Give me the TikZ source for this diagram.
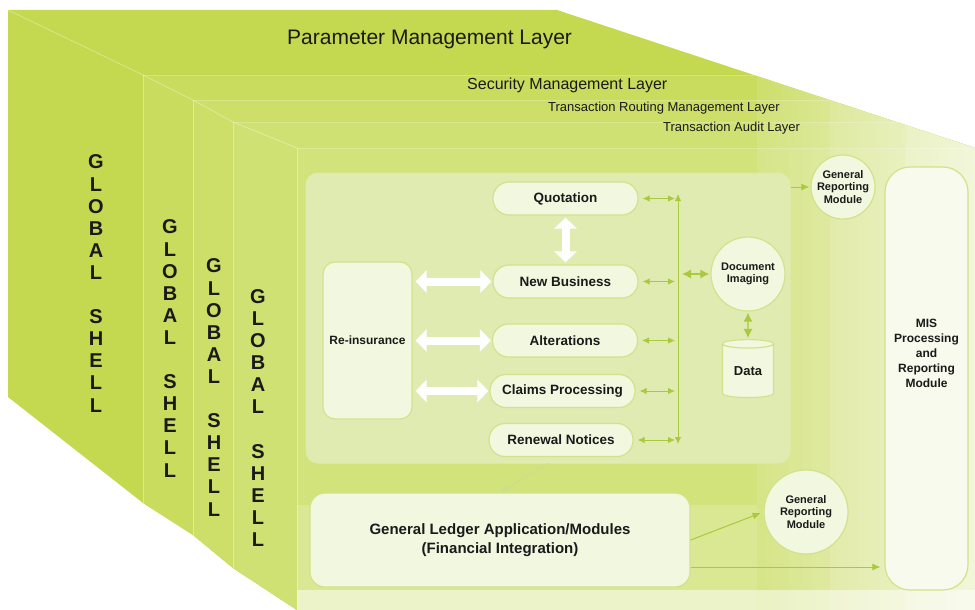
\documentclass[tikz,border=0pt]{standalone}
\usepackage{fontspec}
\setmainfont{Liberation Sans}
\usetikzlibrary{arrows.meta,shapes.geometric,fadings,calc}
\tikzfading[name=fadeR, left color=transparent!100, right color=transparent!0]
\definecolor{Lone}{HTML}{C4D94F}
\definecolor{Ltwo}{HTML}{C9DC5E}
\definecolor{Lthree}{HTML}{CDDF69}
\definecolor{Lfour}{HTML}{D0E173}
\definecolor{Lfive}{HTML}{D3E37C}
\definecolor{panelc}{HTML}{E0EBB2}
\definecolor{boxc}{HTML}{F2F7E0}
\definecolor{edgec}{HTML}{D2E28A}
\definecolor{arrc}{HTML}{A9C93E}
\definecolor{txt}{HTML}{1A1A1A}
\tikzset{
  pill/.style={draw=edgec, line width=1.2pt, fill=boxc, rounded corners=16pt,
    minimum width=145pt, minimum height=33pt, inner sep=0pt,
    font=\fontsize{13.5}{15}\selectfont\bfseries, text=txt},
  circ/.style={circle, draw=edgec, line width=1.2pt, fill=boxc, inner sep=0pt,
    font=\fontsize{11}{12.5}\selectfont\bfseries, align=center, text=txt},
  garr/.style={draw=arrc, line width=1pt, {Latex[length=7pt,width=6.5pt]}-{Latex[length=7pt,width=6.5pt]}},
  garrb/.style={draw=arrc, line width=1.2pt, {Latex[length=9pt,width=9pt]}-{Latex[length=9pt,width=9pt]}},
  sarr/.style={draw=arrc, line width=1pt, -{Latex[length=8pt,width=7pt]}},
  warr/.style={draw=white, line width=8pt, {Triangle[length=11pt,width=22pt]}-{Triangle[length=11pt,width=22pt]}},
  shell/.style={align=center, inner sep=0pt, text=txt, font=\fontsize{20}{22.1}\selectfont\bfseries},
  layertitle/.style={anchor=base west, inner sep=0pt, text=txt},
  crease/.style={draw=white, draw opacity=.35, line width=0.8pt}
}
\begin{document}
\begin{tikzpicture}[x=1pt,y=-1pt]
\useasboundingbox (0,0) rectangle (975,610);
% ---------- layered shell background ----------
\begin{scope}
  \clip (8,10) -- (557,10) -- (975,148) -- (975,610) -- (297,610) -- (233,568)
        -- (193,535) -- (143,503) -- (8,397) -- cycle;
  \fill[Lone] (0,0) rectangle (975,610);
  \fill[Ltwo] (143,75) rectangle (975,610);
  \fill[Lthree] (193,100) rectangle (975,610);
  \fill[Lfour] (233,122) rectangle (975,610);
  \fill[Lfive] (297,148) rectangle (975,610);
  \fill[white, fill opacity=.10] (757,0) rectangle (975,610);
  \fill[white, fill opacity=.10] (830,0) rectangle (975,610);
  \fill[white, fill opacity=.15] (905,0) rectangle (975,610);
  \fill[white, fill opacity=.18] (297,505) rectangle (757,610);
  \fill[white, path fading=fadeR, fit fading=true, fill opacity=.6] (760,0) rectangle (975,610);
  \fill[white, fill opacity=.5] (297,590) rectangle (975,610);
  \draw[crease] (8,10) -- (143,75) -- (193,100) -- (233,122) -- (297,148);
  \draw[crease] (143,75) -- (143,510) (193,100) -- (193,540) (233,122) -- (233,575) (297,148) -- (297,610);
  \draw[crease, draw opacity=.2] (143,75) -- (975,75) (193,100) -- (975,100) (233,122) -- (975,122) (297,148) -- (975,148);
\end{scope}
% ---------- layer titles ----------
\node[layertitle, font=\fontsize{21}{24}\selectfont] (tpar) at (287,45) {Parameter Management Layer};
\node[layertitle, font=\fontsize{16}{18}\selectfont] (tsec) at (467,89) {Security Management Layer};
\node[layertitle, font=\fontsize{13}{15}\selectfont] (trout) at (548,111) {Transaction Routing Management Layer};
\node[layertitle, font=\fontsize{13}{15}\selectfont] (taud) at (663,131) {Transaction Audit Layer};
% ---------- global shells ----------
\node[shell] (g1) at (96,283.5) {G\\L\\O\\B\\A\\L\\\mbox{}\\S\\H\\E\\L\\L};
\node[shell] (g2) at (170,348.5) {G\\L\\O\\B\\A\\L\\\mbox{}\\S\\H\\E\\L\\L};
\node[shell] (g3) at (214,387.5) {G\\L\\O\\B\\A\\L\\\mbox{}\\S\\H\\E\\L\\L};
\node[shell] (g4) at (258,418) {G\\L\\O\\B\\A\\L\\\mbox{}\\S\\H\\E\\L\\L};
% ---------- central panel ----------
\node[draw=edgec!70!white, line width=1pt, fill=panelc, rounded corners=12pt,
      minimum width=484pt, minimum height=290pt] (panel) at (548,318) {};
\node[draw=edgec, line width=1.2pt, fill=boxc, rounded corners=12pt,
      minimum width=89pt, minimum height=157pt, inner sep=0pt,
      font=\fontsize{12}{14}\selectfont\bfseries, text=txt] (reins) at (367.5,340.5) {Re-insurance};
\node[pill] (quot) at (565.5,198.5) {Quotation};
\node[pill] (nb) at (565.5,281.5) {New Business};
\node[pill] (alt) at (565,340.5) {Alterations};
\node[pill] (claims) at (562.5,391) {Claims Processing};
\node[pill, minimum width=144pt] (renew) at (561,440) {Renewal Notices};
\node[circ, minimum size=74pt] (img) at (748,274) {Document\\Imaging};
\node[cylinder, shape border rotate=90, aspect=0.3, draw=edgec, line width=1.2pt, fill=boxc,
      minimum width=51pt, minimum height=58pt, inner sep=0pt,
      font=\fontsize{13}{15}\selectfont\bfseries, text=txt] (data) at (748,371) {Data};
% ---------- right and bottom modules ----------
\node[circ, minimum size=64pt] (grma) at (843,187) {General\\Reporting\\Module};
\node[circ, minimum size=84pt] (grmb) at (806,512) {General\\Reporting\\Module};
\node[draw=edgec, line width=1.2pt, fill=boxc!60!white, rounded corners=25pt,
      minimum width=83pt, minimum height=423pt,
      label={[yshift=25.5pt, align=center, text=txt, font=\fontsize{12}{15}\selectfont\bfseries]center:MIS\\Processing\\and\\Reporting\\Module}] (mis) at (926.5,378.5) {};
\node[draw=edgec, line width=1.2pt, fill=boxc, rounded corners=15pt,
      minimum width=380pt, minimum height=94pt, align=center, text=txt,
      font=\fontsize{15}{19}\selectfont\bfseries] (gl) at (500,540) {General Ledger Application/Modules\\(Financial Integration)};
% ---------- white block arrows ----------
\draw[warr, shorten <=3pt, shorten >=1pt] (reins.east |- nb) -- (nb.west);
\draw[warr, shorten <=3pt, shorten >=1pt] (reins.east |- alt) -- (alt.west);
\draw[warr, shorten <=3pt, shorten >=1pt] (reins.east |- claims) -- (claims.west);
\draw[warr, shorten <=2pt, shorten >=2pt] (quot.south) -- (nb.south |- nb.north);
% ---------- green connectors ----------
\coordinate (bustop) at (678,194);
\coordinate (busbot) at (678,444);
\draw[garr] (bustop) -- (busbot);
\draw[garr, shorten <=4pt, shorten >=3pt] (quot.east) -- (quot.east -| bustop);
\draw[garr, shorten <=4pt, shorten >=3pt] (nb.east) -- (nb.east -| bustop);
\draw[garr, shorten <=4pt, shorten >=3pt] (alt.east) -- (alt.east -| bustop);
\draw[garr, shorten <=4pt, shorten >=3pt] (claims.east) -- (claims.east -| bustop);
\draw[garr, shorten <=4pt, shorten >=3pt] (renew.east) -- (renew.east -| bustop);
\draw[garrb, shorten <=4pt, shorten >=1pt] (img.west -| bustop) -- (img.west);
\draw[garrb, shorten <=1pt, shorten >=1pt] (img.south) -- (data.north);
\draw[sarr, shorten >=1pt] (grma.west -| panel.east) -- (grma.west);
\draw[sarr, draw=arrc!60!white] (panel.south) -- (gl.north);
\draw[sarr, shorten >=3pt] (gl.east) -- (grmb.west);
\draw[sarr, shorten >=4pt] ([yshift=-27pt]gl.east) -- ([yshift=-27pt]gl.east -| mis.west);
\end{tikzpicture}
\end{document}
